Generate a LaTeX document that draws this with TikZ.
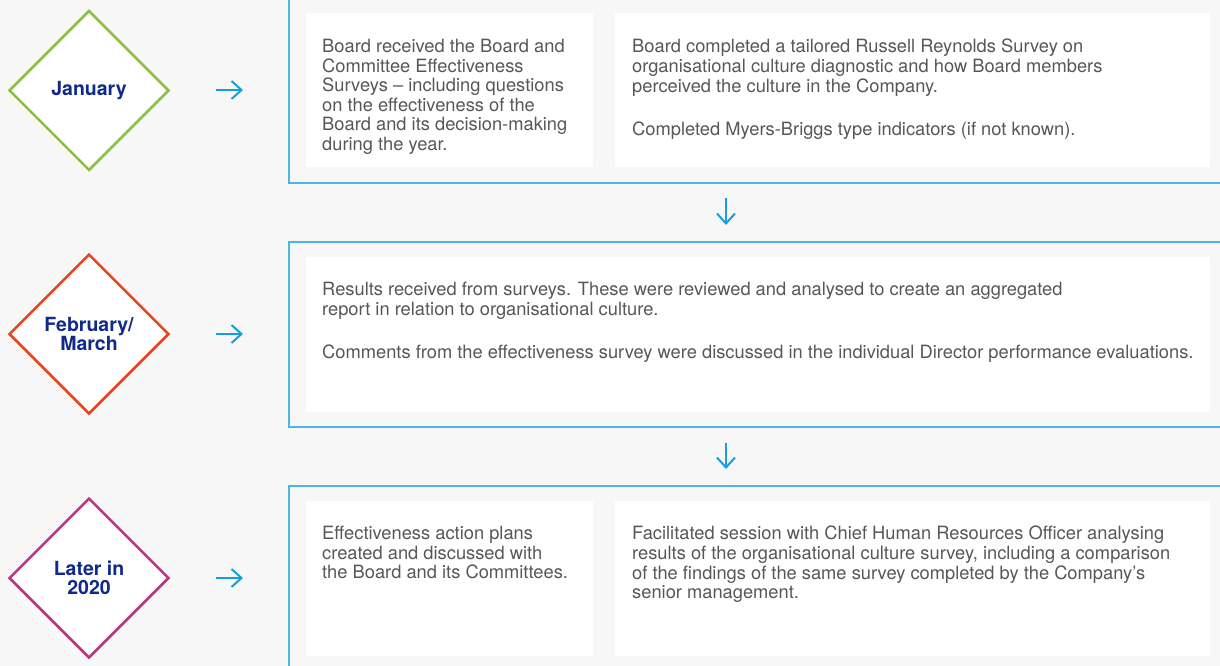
\documentclass[tikz,border=0pt]{standalone}
\usepackage{fontspec}
\setmainfont{TeX Gyre Heros}
\usetikzlibrary{shapes.geometric,arrows.meta}

\definecolor{pagebg}{HTML}{F7F7F7}
\definecolor{panelblue}{HTML}{4BB5E6}
\definecolor{arrowblue}{HTML}{169FDE}
\definecolor{navy}{HTML}{10298A}
\definecolor{bodygrey}{HTML}{575757}
\definecolor{jangreen}{HTML}{8CBF45}
\definecolor{febred}{HTML}{E5461E}
\definecolor{latepink}{HTML}{BA367F}

\begin{document}
\begin{tikzpicture}[x=1pt,y=-1pt,
	month/.style={diamond,draw,line width=2.5pt,fill=white,minimum width=160pt,minimum height=160pt,
		inner sep=0pt,align=center,text=navy,font=\bfseries\fontsize{19.5}{19}\selectfont},
	panel/.style={draw=panelblue,line width=2pt},
	card/.style={fill=white},
	body/.style={anchor=north west,inner sep=0pt,align=left,text=bodygrey,font=\fontsize{18.3}{19.6}\selectfont},
	flow/.style={-{Straight Barb[length=10pt,width=18pt]},line width=2pt,draw=arrowblue}]
			\clip (0,0) rectangle (1220,666);
			\fill [pagebg] (0,0) rectangle (1220,666);

			\draw [panel] (289,-10) rectangle (1232,182.5);
			\fill [card] (306,13) rectangle (593,167);
			\fill [card] (615,13) rectangle (1210,167);
			\draw [panel] (289,241.5) rectangle (1232,426.5);
			\fill [card] (306,257) rectangle (1210,412);
			\draw [panel] (289,486) rectangle (1232,680);
			\fill [card] (306,501) rectangle (593,656);
			\fill [card] (615,501) rectangle (1210,656);

			\node [month,draw=jangreen] (jan) at (89,90.5) {January};
			\node [month,draw=febred] (feb) at (89,334) {February/\\March};
			\node [month,draw=latepink] (late) at (89,578) {Later in\\2020};

			\coordinate (janfrom) at (216,90);
			\coordinate (janto) at (243,90);
			\coordinate (febfrom) at (216,334);
			\coordinate (febto) at (243,334);
			\coordinate (latefrom) at (216,578);
			\coordinate (lateto) at (243,578);
			\draw [flow] (janfrom) -- (janto);
			\draw [flow] (febfrom) -- (febto);
			\draw [flow] (latefrom) -- (lateto);

			\coordinate (downa) at (726,198);
			\coordinate (downb) at (726,225);
			\coordinate (downc) at (726,443);
			\coordinate (downd) at (726,469);
			\draw [flow] (downa) -- (downb);
			\draw [flow] (downc) -- (downd);

			\node [body] (surveys) at (322,39) {Board received the Board and\\Committee Effectiveness\\Surveys -- including questions\\on the effectiveness of the\\Board and its decision-making\\during the year.};
			\node [body] (culture) at (632,39) {Board completed a tailored Russell Reynolds Survey on\\organisational culture diagnostic and how Board members\\perceived the culture in the Company.\\[23.4pt]Completed Myers-Briggs type indicators (if not known).};
			\node [body] (results) at (322,282) {Results received from surveys. These were reviewed and analysed to create an aggregated\\report in relation to organisational culture.\\[23.4pt]Comments from the effectiveness survey were discussed in the individual Director performance evaluations.};
			\node [body] (plans) at (322,526) {Effectiveness action plans\\created and discussed with\\the Board and its Committees.};
			\node [body] (session) at (632,526) {Facilitated session with Chief Human Resources Officer analysing\\results of the organisational culture survey, including a comparison\\of the findings of the same survey completed by the Company's\\senior management.};
			\end{tikzpicture}
\end{document}
